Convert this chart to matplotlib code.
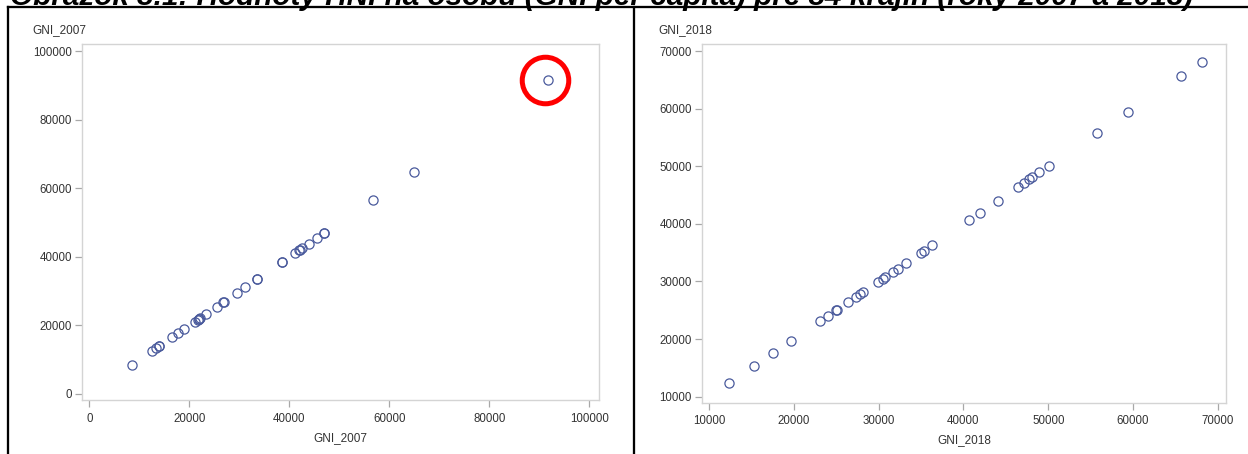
import matplotlib
matplotlib.use("Agg")
import matplotlib.pyplot as plt
from matplotlib.lines import Line2D
import matplotlib.transforms as mtransforms

plt.rcParams['font.family'] = ['Liberation Sans', 'DejaVu Sans']

# GNI per capita for 34 countries, 2007 and 2018
gni_2007 = [8600, 12470, 13330, 13870, 13900, 16600, 17670, 19000, 21070, 21670,
            21870, 22000, 22050, 23270, 25470, 26800, 26850, 29600, 31200, 33470,
            33500, 38540, 38580, 41140, 42000, 42050, 42540, 43940, 45600, 46870,
            46900, 56650, 64950, 91800]
gni_2018 = [12330, 15280, 17600, 19680, 23100, 24010, 25030, 25060, 26410, 27320,
            27790, 28100, 29910, 30460, 30780, 31720, 32230, 33260, 34950, 35300,
            36330, 40610, 41910, 44040, 46440, 47110, 47700, 48100, 48960, 50090,
            55730, 59430, 65700, 68150]

ticks_2007 = [0, 20000, 40000, 60000, 80000, 100000]
ticks_2018 = [10000, 20000, 30000, 40000, 50000, 60000, 70000]

title = "Obrázok 3.1: Hodnoty HNI na osobu (GNI per capita) pre 34 krajín (roky 2007 a 2018)"

W, H = 1248, 454
fig = plt.figure(figsize=(W / 100, H / 100), dpi=100)

def px_axes(x0, y0, x1, y1):
    return fig.add_axes([x0 / W, 1 - y1 / H, (x1 - x0) / W, (y1 - y0) / H])

marker_color = '#4a5a9c'
frame_color = '#d4d4d4'
tick_color = '#a8a8a8'
text_color = '#333333'

def style(ax, ticks_x, ticks_y, xlim, ylim, name):
    ax.set_xlim(*xlim)
    ax.set_ylim(*ylim)
    ax.set_xticks(ticks_x)
    ax.set_yticks(ticks_y)
    ax.set_xticklabels([str(t) for t in ticks_x])
    ax.set_yticklabels([str(t) for t in ticks_y])
    for s in ax.spines.values():
        s.set_color(frame_color)
        s.set_linewidth(1.0)
    ax.tick_params(axis='both', colors=tick_color, labelcolor=text_color,
                   labelsize=8.3, length=5, width=0.9, direction='out')
    ax.tick_params(axis='x', pad=4)
    ax.tick_params(axis='y', pad=2.5)
    ax.set_xlabel(name, fontsize=8.5, color=text_color, labelpad=5)

# Left panel: GNI_2007
ax1 = px_axes(82.3, 44.3, 598.5, 400.3)
ax1.plot(gni_2007, gni_2007, linestyle='none', marker='o', markersize=6.6,
         markerfacecolor='none', markeredgecolor=marker_color, markeredgewidth=0.9)
style(ax1, ticks_2007, ticks_2007, (-1400, 101840), (-1840, 102100), 'GNI_2007')
fig.text(32 / W, 1 - 30 / H, 'GNI_2007', fontsize=8.5, color=text_color,
         ha='left', va='center')

# Highlight the outlier with a red ring
outlier = max(gni_2007)
ring_tr = ax1.transData + mtransforms.ScaledTranslation(-3 / 100, 0, fig.dpi_scale_trans)
ax1.plot([outlier], [outlier], linestyle='none', marker='o', markersize=33.5,
         markerfacecolor='none', markeredgecolor='#ff0000', markeredgewidth=3.6,
         transform=ring_tr, clip_on=False)

# Right panel: GNI_2018
ax2 = px_axes(702.3, 44.3, 1226, 403)
ax2.plot(gni_2018, gni_2018, linestyle='none', marker='o', markersize=6.6,
         markerfacecolor='none', markeredgecolor=marker_color, markeredgewidth=0.9)
style(ax2, ticks_2018, ticks_2018, (9210, 70950), (8906, 71163), 'GNI_2018')
fig.text(658 / W, 1 - 30 / H, 'GNI_2018', fontsize=8.5, color=text_color,
         ha='left', va='center')

# Table-style frame lines: top rule, left edge and divider between the panels
lw = 1.65
top_y = 1 - 7.3 / H
fig.add_artist(Line2D([7.8 / W, 1.0], [top_y, top_y], color='black', lw=lw))
for x in (7.8, 633.5):
    fig.add_artist(Line2D([x / W, x / W], [top_y, 0], color='black', lw=lw))

# Caption above the panels (partially cropped by the top edge)
fig.text(10 / W, 1 - 4.7 / H, title, fontsize=21.4, fontweight='bold', fontstyle='italic',
         ha='left', va='baseline', color='black')

fig.savefig('out.png', dpi=100)
